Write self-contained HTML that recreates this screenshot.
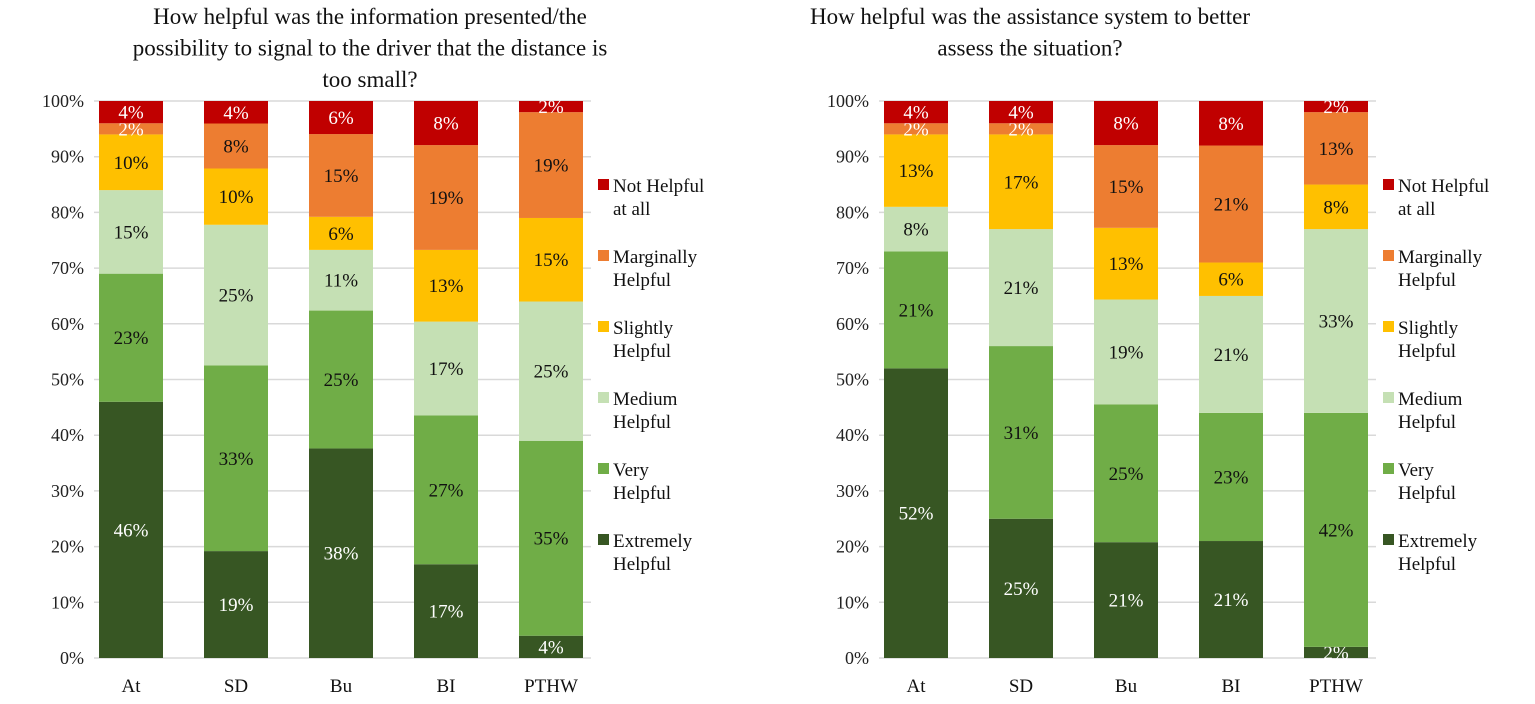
<!DOCTYPE html>
<html><head><meta charset="utf-8"><style>
body{margin:0;background:#fff;}
svg text{font-family:"Liberation Serif",serif;}
</style></head><body>
<svg id="chart" width="1535" height="699" xmlns="http://www.w3.org/2000/svg"></svg>
<script>
const categories = ["At","SD","Bu","BI","PTHW"];
const seriesNames = ["Extremely Helpful","Very Helpful","Medium Helpful","Slightly Helpful","Marginally Helpful","Not Helpful at all"];
const legendLines = [["Extremely","Helpful"],["Very","Helpful"],["Medium","Helpful"],["Slightly","Helpful"],["Marginally","Helpful"],["Not Helpful","at all"]];
const colors = ["#375623","#70ad47","#c5e0b4","#ffc000","#ed7d31","#c00000"];
const textColors = ["#fff","#111","#111","#111","#111","#fff"];
const leftValues = [[46,23,15,10,2,4],[19,33,25,10,8,4],[38,25,11,6,15,6],[17,27,17,13,19,8],[4,35,25,15,19,2]];
const rightValues = [[52,21,8,13,2,4],[25,31,21,17,2,4],[21,25,19,13,15,8],[21,23,21,6,21,8],[2,42,33,8,13,2]];
const yTicks = [0,10,20,30,40,50,60,70,80,90,100];
const leftTitle = ["How helpful was the information presented/the","possibility to signal to the driver that the distance is","too small?"];
const rightTitle = ["How helpful was the assistance system to better","assess the situation?"];

const svg = document.getElementById('chart');
const NS = "http://www.w3.org/2000/svg";
function mk(tag, attrs, parent){const e=document.createElementNS(NS,tag);for(const k in attrs)e.setAttribute(k,attrs[k]);(parent||svg).appendChild(e);return e;}
const y0=658, y100=101;
function yScale(p){return y0-(y0-y100)*p/100;}

function drawChart(name, x0, values, title, titleCx, legendX){
  const g = mk('g',{});
  
  
  title.forEach((t,i)=>{
    const e=mk('text',{x:titleCx,y:24+i*31.5,'text-anchor':'middle','font-size':23,fill:'#111'},g);
    e.textContent=t;
    
    
  });
  const gridL=x0-37, gridR=x0+460;
  yTicks.forEach(t=>{
    const y=yScale(t);
    const l=mk('line',{x1:gridL,x2:gridR,y1:y,y2:y,stroke:'#d9d9d9','stroke-width':1.5},g);
    
    
    const e=mk('text',{x:gridL-10,y:y+6,'text-anchor':'end','font-size':18,fill:'#222'},g);
    e.textContent=t+'%';
    
    
  });
  categories.forEach((c,i)=>{
    const cx=x0+i*105, w=64;
    const vals=values[i]; const tot=vals.reduce((a,b)=>a+b,0);
    let cum=0;
    vals.forEach((v,s)=>{
      const p=v/tot*100;
      const yt=yScale(cum+p), yb=yScale(cum);
      const r=mk('rect',{x:cx-w/2,y:yt,width:w,height:yb-yt,fill:colors[s]},g);
      
      
      const tc = v<=2 ? '#fff' : textColors[s];
      const e=mk('text',{x:cx,y:(yt+yb)/2+6.5,'text-anchor':'middle','font-size':19,fill:tc},g);
      e.textContent=v+'%';
      
      
      cum+=p;
    });
    const e=mk('text',{x:cx,y:692,'text-anchor':'middle','font-size':19,fill:'#111'},g);
    e.textContent=c;
    
    
  });
  for(let s=5;s>=0;s--){
    const k=5-s, ly=192+k*71;
    const lg=mk('g',{},g);
    
    
    mk('rect',{x:legendX,y:ly-13,width:11,height:11,fill:colors[s]},lg);
    legendLines[s].forEach((t,j)=>{
      const e=mk('text',{x:legendX+15,y:ly+j*23,'font-size':19,fill:'#111'},lg);
      e.textContent=t;
    });
  }
}
drawChart('left-chart',131,leftValues,leftTitle,370,598);
drawChart('right-chart',916,rightValues,rightTitle,1030,1383);
</script>
</body></html>
